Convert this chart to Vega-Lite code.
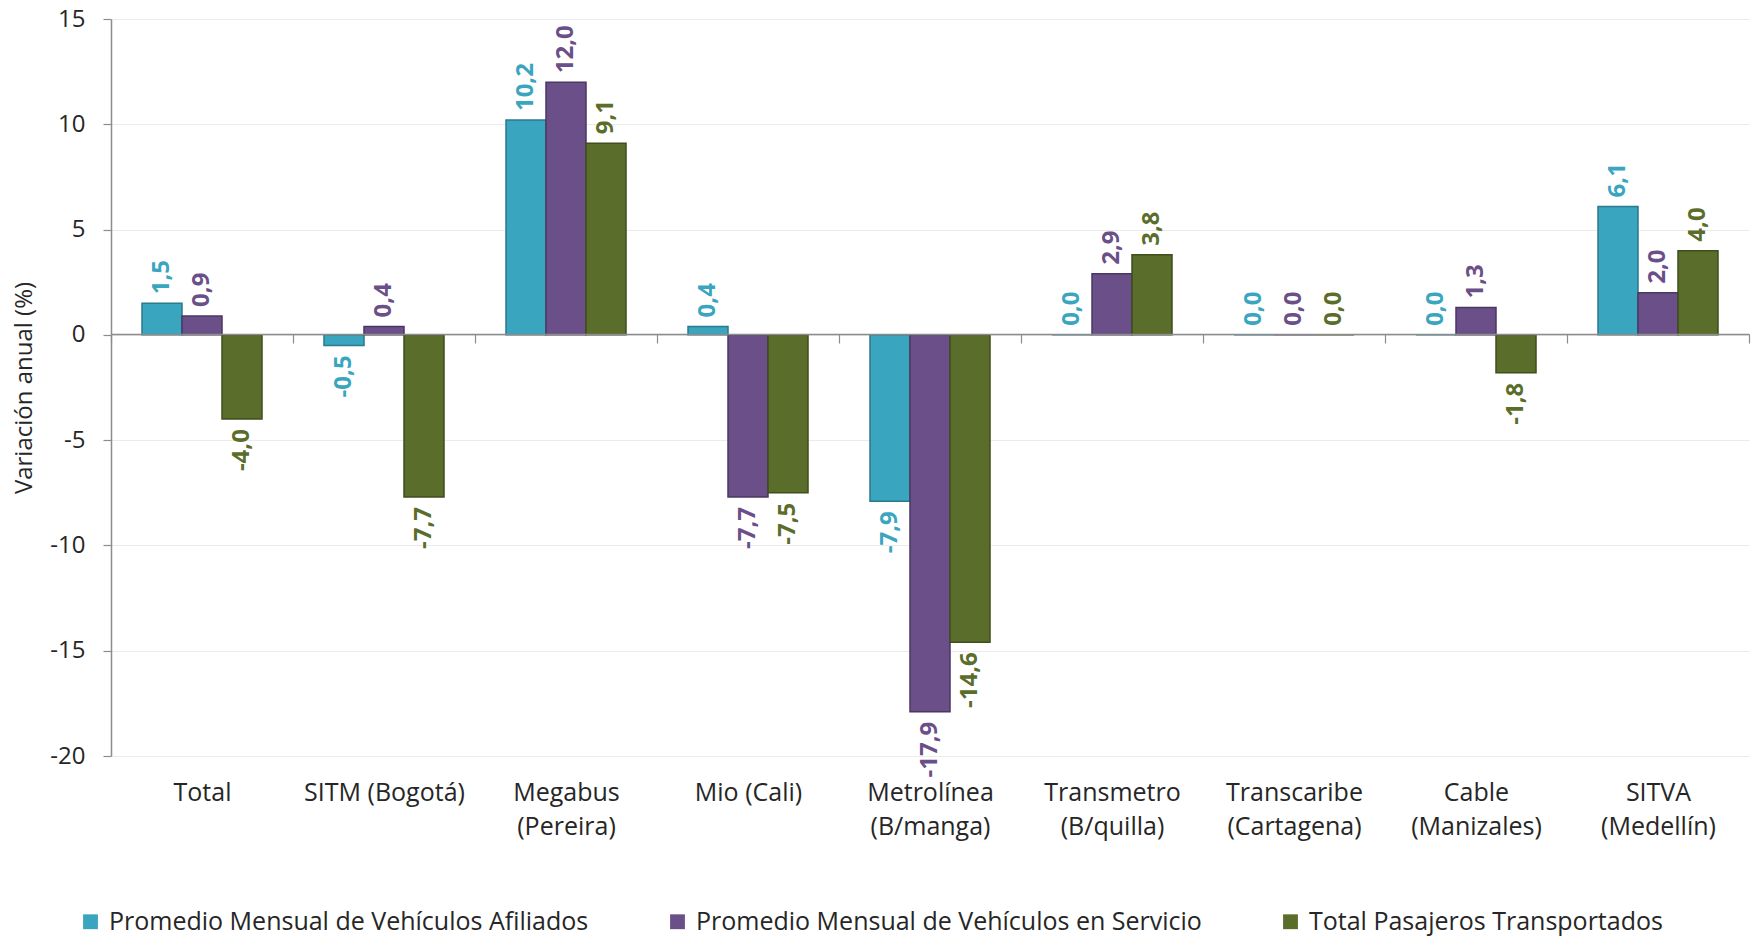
{
  "$schema": "https://vega.github.io/schema/vega-lite/v6.json",
  "width": 1638,
  "height": 737,
  "autosize": {"type": "none"},
  "padding": {"left": 111, "top": 19, "right": 3, "bottom": 180},
  "config": {
    "locale": {"number": {"decimal": ",", "thousands": ".", "grouping": [3], "currency": ["$", ""], "minus": "-"}},
    "view": {"stroke": null},
    "font": "Open Sans"
  },
  "data": {
    "values": [
      {"sistema": "Total", "serie": "Promedio Mensual de Vehículos Afiliados", "valor": 1.5},
      {"sistema": "Total", "serie": "Promedio Mensual de Vehículos en Servicio", "valor": 0.9},
      {"sistema": "Total", "serie": "Total Pasajeros Transportados", "valor": -4.0},
      {"sistema": "SITM (Bogotá)", "serie": "Promedio Mensual de Vehículos Afiliados", "valor": -0.5},
      {"sistema": "SITM (Bogotá)", "serie": "Promedio Mensual de Vehículos en Servicio", "valor": 0.4},
      {"sistema": "SITM (Bogotá)", "serie": "Total Pasajeros Transportados", "valor": -7.7},
      {"sistema": "Megabus|(Pereira)", "serie": "Promedio Mensual de Vehículos Afiliados", "valor": 10.2},
      {"sistema": "Megabus|(Pereira)", "serie": "Promedio Mensual de Vehículos en Servicio", "valor": 12.0},
      {"sistema": "Megabus|(Pereira)", "serie": "Total Pasajeros Transportados", "valor": 9.1},
      {"sistema": "Mio (Cali)", "serie": "Promedio Mensual de Vehículos Afiliados", "valor": 0.4},
      {"sistema": "Mio (Cali)", "serie": "Promedio Mensual de Vehículos en Servicio", "valor": -7.7},
      {"sistema": "Mio (Cali)", "serie": "Total Pasajeros Transportados", "valor": -7.5},
      {"sistema": "Metrolínea|(B/manga)", "serie": "Promedio Mensual de Vehículos Afiliados", "valor": -7.9},
      {"sistema": "Metrolínea|(B/manga)", "serie": "Promedio Mensual de Vehículos en Servicio", "valor": -17.9},
      {"sistema": "Metrolínea|(B/manga)", "serie": "Total Pasajeros Transportados", "valor": -14.6},
      {"sistema": "Transmetro|(B/quilla)", "serie": "Promedio Mensual de Vehículos Afiliados", "valor": 0.0},
      {"sistema": "Transmetro|(B/quilla)", "serie": "Promedio Mensual de Vehículos en Servicio", "valor": 2.9},
      {"sistema": "Transmetro|(B/quilla)", "serie": "Total Pasajeros Transportados", "valor": 3.8},
      {"sistema": "Transcaribe|(Cartagena)", "serie": "Promedio Mensual de Vehículos Afiliados", "valor": 0.0},
      {"sistema": "Transcaribe|(Cartagena)", "serie": "Promedio Mensual de Vehículos en Servicio", "valor": 0.0},
      {"sistema": "Transcaribe|(Cartagena)", "serie": "Total Pasajeros Transportados", "valor": 0.0},
      {"sistema": "Cable|(Manizales)", "serie": "Promedio Mensual de Vehículos Afiliados", "valor": 0.0},
      {"sistema": "Cable|(Manizales)", "serie": "Promedio Mensual de Vehículos en Servicio", "valor": 1.3},
      {"sistema": "Cable|(Manizales)", "serie": "Total Pasajeros Transportados", "valor": -1.8},
      {"sistema": "SITVA|(Medellín)", "serie": "Promedio Mensual de Vehículos Afiliados", "valor": 6.1},
      {"sistema": "SITVA|(Medellín)", "serie": "Promedio Mensual de Vehículos en Servicio", "valor": 2.0},
      {"sistema": "SITVA|(Medellín)", "serie": "Total Pasajeros Transportados", "valor": 4.0}
    ]
  },
  "encoding": {
    "x": {
      "field": "sistema", "type": "nominal", "sort": null,
      "scale": {"paddingInner": 0, "paddingOuter": 0},
      "axis": {
        "title": null, "domain": true, "domainColor": "#8c8c8c", "domainWidth": 1.5,
        "ticks": true, "tickBand": "extent", "tickColor": "#8c8c8c", "tickSize": 9, "tickWidth": 1.2,
        "grid": false, "offset": -422, "zindex": 1,
        "labelAngle": 0, "labelFontSize": 25, "labelColor": "#262626",
        "labelPadding": 437, "labelLineHeight": 34, "labelBaseline": "top",
        "labelExpr": "split(datum.label, '|')"
      }
    },
    "xOffset": {
      "field": "serie", "type": "nominal",
      "sort": ["Promedio Mensual de Vehículos Afiliados", "Promedio Mensual de Vehículos en Servicio", "Total Pasajeros Transportados"],
      "scale": {"paddingInner": 0, "paddingOuter": 0.775}
    },
    "y": {
      "field": "valor", "type": "quantitative",
      "scale": {"domain": [-20, 15], "nice": false, "zero": false},
      "axis": {
        "title": "Variación anual (%)", "titleFontSize": 24, "titleFontWeight": "normal", "titleColor": "#262626", "titlePadding": 13,
        "values": [-20, -15, -10, -5, 0, 5, 10, 15],
        "labelFontSize": 24, "labelColor": "#262626", "labelPadding": 18,
        "grid": true, "gridColor": "#ebebeb",
        "domainColor": "#8c8c8c", "domainWidth": 1.5, "tickColor": "#8c8c8c", "tickSize": 8, "tickWidth": 1.2
      }
    }
  },
  "layer": [
    {
      "mark": {"type": "bar", "strokeWidth": 1.5, "clip": false},
      "encoding": {
        "color": {
          "field": "serie", "type": "nominal",
          "sort": ["Promedio Mensual de Vehículos Afiliados", "Promedio Mensual de Vehículos en Servicio", "Total Pasajeros Transportados"],
          "scale": {"range": ["#3aa5bf", "#6a4f88", "#5a6d2b"]},
          "legend": {
            "title": null, "orient": "none", "legendX": -33, "legendY": 890, "direction": "horizontal",
            "symbolType": "square", "symbolSize": 220, "symbolStrokeWidth": 1.5, "labelOffset": 6,
            "labelFontSize": 25, "labelColor": "#262626", "labelLimit": 800,
            "columnPadding": 76
          }
        },
        "stroke": {
          "field": "serie", "type": "nominal",
          "sort": ["Promedio Mensual de Vehículos Afiliados", "Promedio Mensual de Vehículos en Servicio", "Total Pasajeros Transportados"],
          "scale": {"range": ["#2a7a8e", "#4b3763", "#3f4e1d"]},
          "legend": null
        }
      }
    },
    {
      "transform": [{"filter": "datum.valor >= 0"}],
      "mark": {"type": "text", "angle": 270, "align": "left", "baseline": "middle", "dx": 9, "fontSize": 24, "fontWeight": "bold"},
      "encoding": {
        "text": {"field": "valor", "type": "quantitative", "format": ".1f"},
        "color": {
          "field": "serie", "type": "nominal",
          "sort": ["Promedio Mensual de Vehículos Afiliados", "Promedio Mensual de Vehículos en Servicio", "Total Pasajeros Transportados"],
          "scale": {"range": ["#2f90a8", "#7030a0", "#4f6228"]},
          "legend": null
        }
      }
    },
    {
      "transform": [{"filter": "datum.valor < 0"}],
      "mark": {"type": "text", "angle": 270, "align": "right", "baseline": "middle", "dx": -10, "fontSize": 24, "fontWeight": "bold"},
      "encoding": {
        "text": {"field": "valor", "type": "quantitative", "format": ".1f"},
        "color": {
          "field": "serie", "type": "nominal",
          "sort": ["Promedio Mensual de Vehículos Afiliados", "Promedio Mensual de Vehículos en Servicio", "Total Pasajeros Transportados"],
          "scale": {"range": ["#2f90a8", "#7030a0", "#4f6228"]},
          "legend": null
        }
      }
    }
  ]
}
